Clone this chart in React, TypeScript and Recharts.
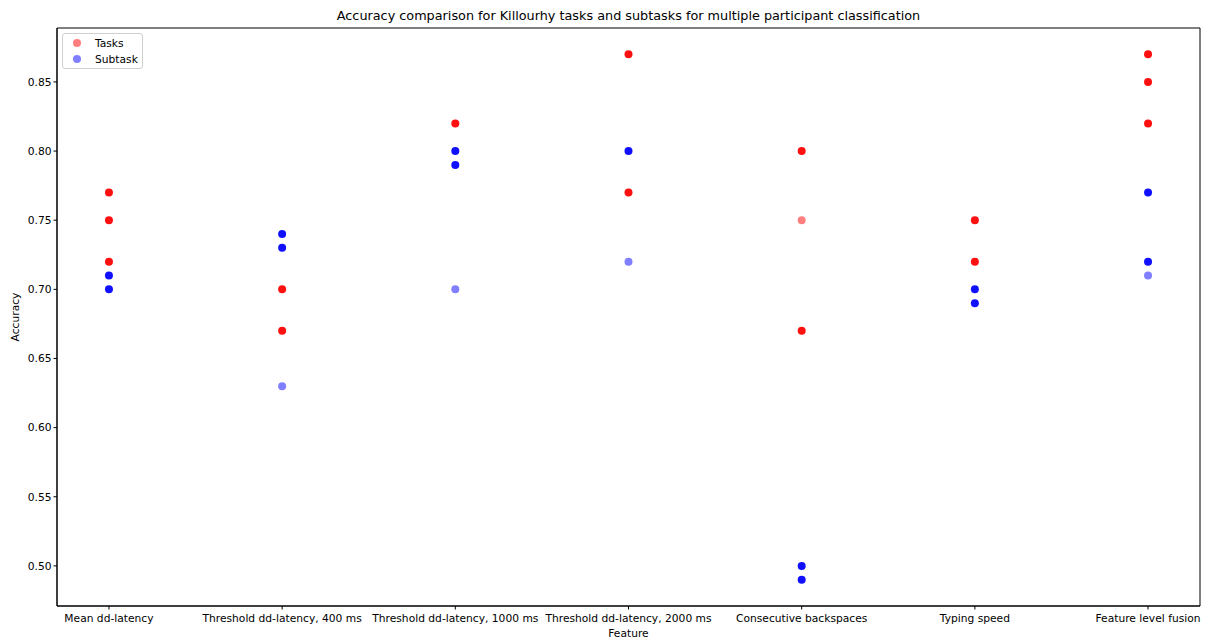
import React from 'react';
import {
  ScatterChart, Scatter, XAxis, YAxis, ReferenceArea
} from 'recharts';

const FEATURES = [
  'Mean dd-latency',
  'Threshold dd-latency, 400 ms',
  'Threshold dd-latency, 1000 ms',
  'Threshold dd-latency, 2000 ms',
  'Consecutive backspaces',
  'Typing speed',
  'Feature level fusion',
];

// feature index, accuracy, number of overlapping results at that spot
const TASK_FEATURE = [0, 0, 0, 1, 1, 2, 3, 3, 4, 4, 4, 5, 5, 6, 6, 6];
const TASK_ACC = [0.77, 0.75, 0.72, 0.70, 0.67, 0.82, 0.87, 0.77, 0.80, 0.75, 0.67, 0.75, 0.72, 0.87, 0.85, 0.82];
const TASK_COUNT = [4, 4, 4, 4, 4, 4, 4, 4, 4, 1, 4, 4, 4, 4, 4, 4];

const SUB_FEATURE = [0, 0, 1, 1, 1, 2, 2, 2, 3, 3, 4, 4, 5, 5, 6, 6, 6];
const SUB_ACC = [0.71, 0.70, 0.74, 0.73, 0.63, 0.80, 0.79, 0.70, 0.80, 0.72, 0.50, 0.49, 0.70, 0.69, 0.77, 0.72, 0.71];
const SUB_COUNT = [4, 4, 4, 4, 1, 4, 4, 1, 4, 1, 4, 4, 4, 4, 4, 4, 1];

const Y_TICKS = [0.5, 0.55, 0.6, 0.65, 0.7, 0.75, 0.8, 0.85];
const X_DOMAIN: [number, number] = [-0.3, 6.3];
const Y_DOMAIN: [number, number] = [0.471, 0.889];

const tasks = TASK_FEATURE.map((f, i) => ({ x: f, y: TASK_ACC[i], n: TASK_COUNT[i] }));
const subtasks = SUB_FEATURE.map((f, i) => ({ x: f, y: SUB_ACC[i], n: SUB_COUNT[i] }));

const FONT = 'DejaVu Sans, sans-serif';
const TICK_FONT = 10.7;

const dot = (color: string) => (props: any) => {
  const { cx, cy, payload } = props;
  const op = 1 - Math.pow(0.5, payload.n);
  return <circle cx={cx} cy={cy} r={4} fill={color} fillOpacity={op} />;
};

const LegendBox = () => (
  <div style={{
    position: 'absolute', top: 33, left: 62, boxSizing: 'border-box',
    border: '1px solid #d0d0d0', borderRadius: 3, background: 'rgba(255,255,255,0.8)',
    padding: '1px 4px 2px 4px', fontSize: TICK_FONT, width: 81, height: 36,
  }}>
    {[['Tasks', '#ff0000'], ['Subtask', '#0000ff']].map(([label, c]) => (
      <div key={label} style={{ display: 'flex', alignItems: 'center', height: 16 }}>
        <svg width={20} height={10}>
          <circle cx={10} cy={5} r={4} fill={c} fillOpacity={0.5} />
        </svg>
        <span style={{ marginLeft: 8 }}>{label}</span>
      </div>
    ))}
  </div>
);

export default function App() {
  return (
    <div style={{ position: 'absolute', left: 0, top: 0, width: 1208, height: 643, background: '#fff', fontFamily: FONT, color: '#000' }}>
      <ScatterChart width={1208} height={643} margin={{ top: 28, right: 8, bottom: 0, left: 0 }}>
        <XAxis
          type="number" dataKey="x" domain={X_DOMAIN} ticks={[0, 1, 2, 3, 4, 5, 6]}
          tickFormatter={(v: number) => FEATURES[v]} height={37} interval={0}
          axisLine={{ stroke: '#000' }} tickLine={{ stroke: '#000' }} tickSize={3.5} tickMargin={5}
          tick={{ fill: '#000', fontSize: TICK_FONT, fontFamily: FONT }} allowDataOverflow
        />
        <YAxis
          type="number" dataKey="y" domain={Y_DOMAIN} ticks={Y_TICKS} width={57}
          tickFormatter={(v: number) => v.toFixed(2)}
          axisLine={{ stroke: '#000' }} tickLine={{ stroke: '#000' }} tickSize={3.5}
          tick={{ fill: '#000', fontSize: TICK_FONT, fontFamily: FONT }} allowDataOverflow
        />
        <ReferenceArea x1={X_DOMAIN[0]} x2={X_DOMAIN[1]} y1={Y_DOMAIN[0]} y2={Y_DOMAIN[1]}
          fill="none" stroke="#000" strokeWidth={1} />
        <Scatter name="Tasks" data={tasks} fill="#ff0000" shape={dot('#ff0000')} isAnimationActive={false} />
        <Scatter name="Subtask" data={subtasks} fill="#0000ff" shape={dot('#0000ff')} isAnimationActive={false} />
      </ScatterChart>
      <div style={{ position: 'absolute', top: 8, left: 57, width: 1143, textAlign: 'center', fontSize: 12.8 }}>
        Accuracy comparison for Killourhy tasks and subtasks for multiple participant classification
      </div>
      <div style={{ position: 'absolute', top: 627, left: 57, width: 1143, textAlign: 'center', fontSize: TICK_FONT }}>
        Feature
      </div>
      <div style={{
        position: 'absolute', left: 15, top: 317, fontSize: TICK_FONT,
        transform: 'translate(-50%, -50%) rotate(-90deg)', whiteSpace: 'nowrap',
      }}>
        Accuracy
      </div>
      <LegendBox />
    </div>
  );
}
